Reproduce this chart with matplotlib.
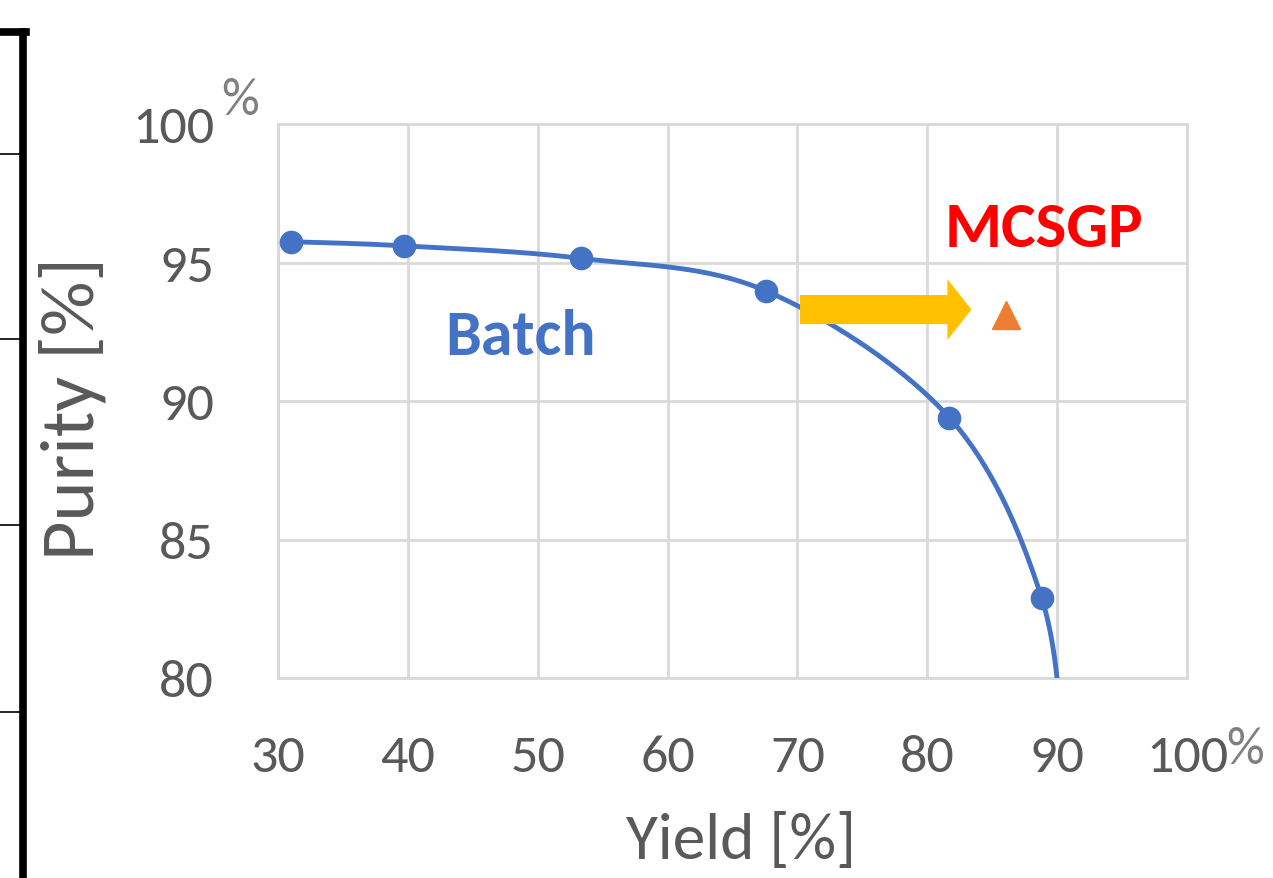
import numpy as np
import matplotlib.pyplot as plt
from matplotlib import font_manager
from matplotlib.lines import Line2D
from matplotlib.patches import FancyArrow

# data
batch_yield = [31.0, 39.7, 53.3, 67.6, 81.7, 88.8]
batch_purity = [95.75, 95.6, 95.15, 93.97, 89.4, 82.9]
# tail of the curve runs below the axis and gets clipped
tail_yield = [90.6]
tail_purity = [76.5]
mcsgp_yield = [86.1]
mcsgp_purity = [93.1]
arrow_start = (70.2, 93.3)
arrow_end = 83.4

x_ticks = [30, 40, 50, 60, 70, 80, 90, 100]
y_ticks = [80, 85, 90, 95, 100]

names = {f.name for f in font_manager.fontManager.ttflist}
font = 'Lato'
for cand in ['Carlito', 'Liberation Sans Narrow', 'Roboto Condensed', 'Open Sans Condensed']:
    if cand in names:
        font = cand
        break
plt.rcParams['font.family'] = [font, 'DejaVu Sans']

blue = '#4472C4'
grey_txt = '#595959'
grid_c = '#D9D9D9'
W, H = 1273, 879


def smooth(xs, ys, sx, sy, n=40):
    # Excel-like smoothed line (Bezier through points)
    P = np.column_stack([np.asarray(xs) * sx, np.asarray(ys) * sy])
    Q = np.vstack([P[0], P, P[-1]])
    out = []
    for i in range(len(P) - 1):
        p0, p1 = Q[i + 1], Q[i + 2]
        c1 = p0 + (Q[i + 2] - Q[i]) / 6
        c2 = p1 - (Q[i + 3] - Q[i + 1]) / 6
        t = np.linspace(0, 1, n)[:, None]
        seg = ((1 - t) ** 3) * p0 + 3 * ((1 - t) ** 2) * t * c1 + 3 * (1 - t) * t ** 2 * c2 + t ** 3 * p1
        out.append(seg)
    out = np.vstack(out)
    return out[:, 0] / sx, out[:, 1] / sy


fig = plt.figure(figsize=(12.73, 8.79), dpi=100)
ax = fig.add_axes([278 / W, 1 - 679 / H, 909 / W, 554 / H])
ax.set_xlim(30, 100)
ax.set_ylim(80, 100)

sx = 909 / 70
sy = 554 / 20
lx, ly = smooth(batch_yield + tail_yield, batch_purity + tail_purity, sx, sy)
ax.plot(lx, ly, color=blue, lw=3.5, zorder=3)
ax.plot(batch_yield, batch_purity, 'o', color=blue, ms=16, zorder=4)
ax.plot(mcsgp_yield, mcsgp_purity, '^', color='#ED7D31', ms=20, zorder=4)

ax.add_patch(FancyArrow(arrow_start[0], arrow_start[1], arrow_end - arrow_start[0], 0,
                        width=1.05, head_width=2.2, head_length=1.85,
                        length_includes_head=True, color='#FFC000', lw=0, zorder=5))

ax.text(48.65, 91.7, 'Batch', color=blue, fontsize=46, fontweight='bold',
        ha='center', va='baseline')
ax.text(88.95, 95.6, 'MCSGP', color='#FF0000', fontsize=47, fontweight='bold',
        ha='center', va='baseline')

ax.set_xticks(x_ticks)
ax.set_yticks(y_ticks)
ax.set_xticklabels([str(v) for v in x_ticks])
ax.set_yticklabels([str(v) for v in y_ticks])
ax.tick_params(length=0, labelsize=39, colors=grey_txt)
ax.tick_params(axis='x', pad=40)
ax.tick_params(axis='y', pad=46)
ax.grid(True, color=grid_c, lw=2)
for s in ax.spines.values():
    s.set_color(grid_c)
    s.set_linewidth(2)

# the raised percent signs next to 100
fig.text(240 / W, 1 - 101 / H, '%', fontsize=38, color='#7F7F7F', ha='center', va='center')
fig.text(1245 / W, 1 - 750 / H, '%', fontsize=38, color='#7F7F7F', ha='center', va='center')

fig.text(73 / W, 1 - 409 / H, 'Purity [%]', rotation=90, fontsize=55, color=grey_txt,
         ha='center', va='center')
fig.text(741 / W, 1 - 842 / H, 'Yield [%]', fontsize=47, color=grey_txt,
         ha='center', va='center')

# remains of a table border on the left edge
fig.add_artist(Line2D([23 / W, 23 / W], [0, 1 - 33 / H], color='black', lw=5.5))
fig.add_artist(Line2D([0, 26 / W], [1 - 33 / H, 1 - 33 / H], color='black', lw=5.5))
for yy in [155, 340, 526, 713]:
    fig.add_artist(Line2D([0, 20 / W], [1 - yy / H, 1 - yy / H], color='black', lw=1.2))

fig.savefig('out.png', dpi=100, facecolor='white')
